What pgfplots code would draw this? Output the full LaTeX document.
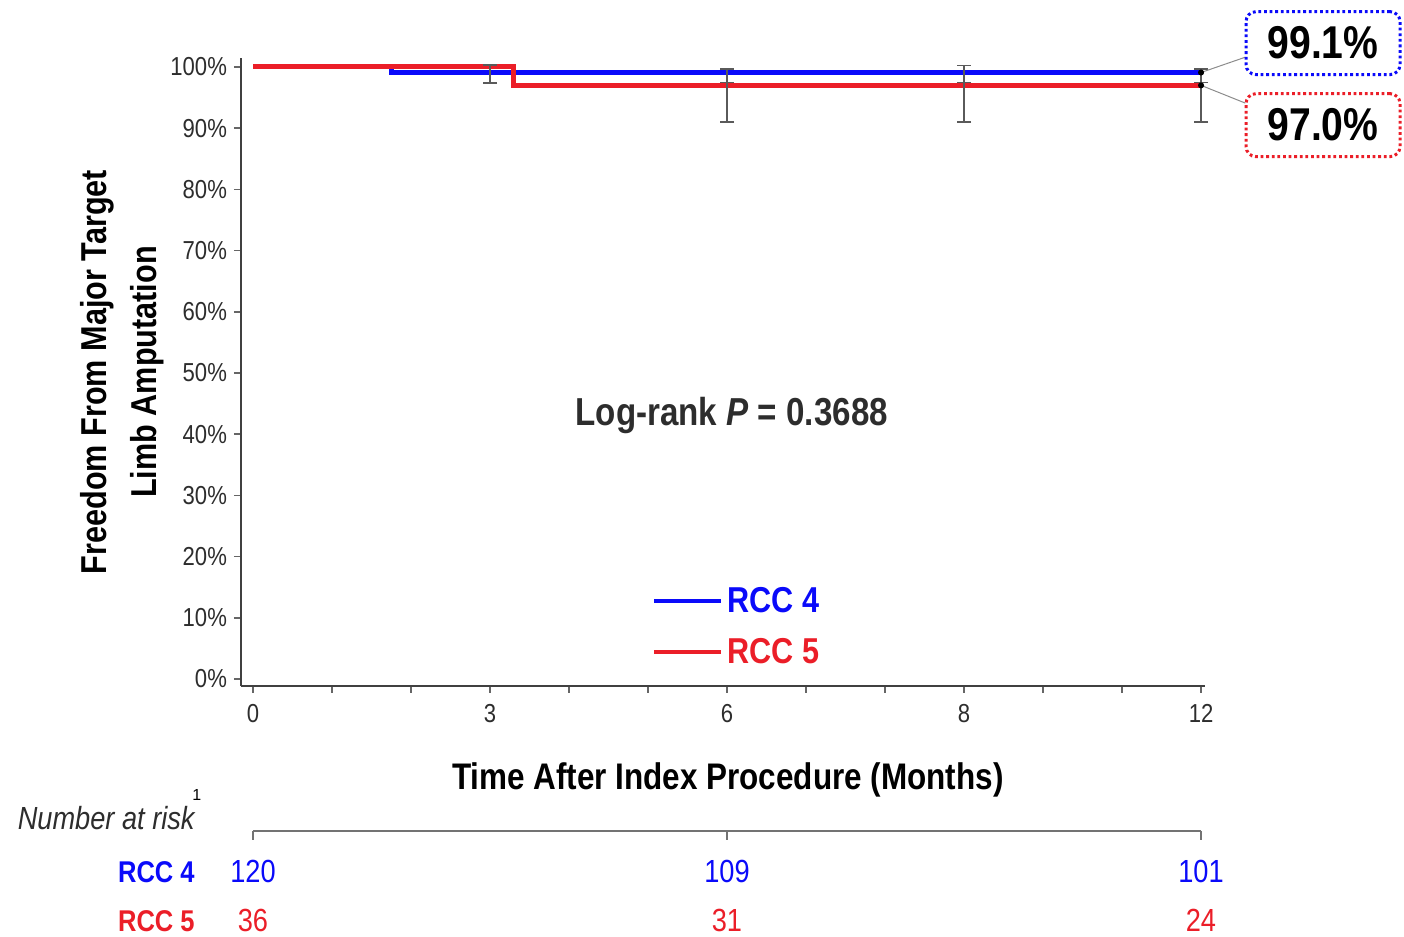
\documentclass[border=0pt]{standalone}
\usepackage{fontspec}
\setmainfont{Liberation Sans}[FakeStretch=0.85]
\newfontfamily\plainfont{Liberation Sans}
\usepackage{pgfplots}
\pgfplotsset{compat=1.18}
\definecolor{rccblue}{RGB}{10,10,250}
\definecolor{rccred}{RGB}{235,30,40}
\definecolor{errgray}{RGB}{90,90,90}
\definecolor{txtgray}{RGB}{45,45,45}
\newcommand{\fs}[1]{\fontsize{#1}{#1}\selectfont}

\begin{document}
\begin{tikzpicture}
\path[use as bounding box] (-120.5pt,-125.5pt) rectangle (581.5pt,343pt);
% main Kaplan-Meier panel
\begin{axis}[
  at={(0,0)}, anchor=south west, scale only axis, width=482pt, height=314pt,
  xmin=-0.152, xmax=12.05, ymin=-1.144, ymax=101.47,
  axis x line=bottom, axis y line=left,
  axis line style={-, draw=black!75, line width=0.8pt},
  tick align=outside, major tick length=3.5pt, minor tick length=3.5pt,
  tick style={draw=black!60, line width=0.8pt},
  xtick={0,3,6,9,12}, xticklabels={0,3,6,8,12}, minor xtick={1,2,4,5,7,8,10,11},
  ytick={0,10,...,100}, yticklabel={\pgfmathparse{int(round(\tick))}\pgfmathresult\%},
  ticklabel style={font=\fs{13}, text=txtgray},
  xticklabel style={yshift=-2pt},
  xlabel={Time After Index Procedure (Months)},
  xlabel style={at={([yshift=-47pt]axis description cs:0.505,0)}, anchor=center, font=\bfseries\fs{18.5}},
  ylabel={Freedom From Major Target\\Limb Amputation},
  ylabel style={at={([xshift=-59.5pt]axis description cs:0,0.5)}, anchor=center, align=center,
    font=\bfseries\fontsize{18}{25}\selectfont},
  clip=false,
  legend style={at={(axis description cs:0.4202,0.0947)}, anchor=west, draw=none, fill=none,
    font=\bfseries\fs{18}, row sep=7.5pt},
  legend cell align=left,
  legend image code/.code={\draw[#1, line width=2pt] (0pt,0pt) -- (33.5pt,0pt);},
]
\addplot[rccblue, line width=2.5pt, const plot] coordinates {(0,100) (1.75,99.1) (12,99.1)};
\addplot[rccred, line width=2.5pt, const plot] coordinates {(0,100) (3.3,97.0) (12,97.0)};
\legend{\textcolor{rccblue}{RCC 4}, \textcolor{rccred}{RCC 5}}
% confidence intervals
\addplot[forget plot, draw=none, mark=none,
  error bars/.cd, y dir=both, y explicit,
  error bar style={draw=errgray, line width=0.7pt},
  error mark options={rotate=90, mark size=3.5pt, draw=errgray, line width=0.7pt}] coordinates {
  (3,99.1) += (0,1.2) -= (0,1.7)
  (6,99.1) += (0,0.6) -= (0,1.6)
  (9,99.1) += (0,1.1) -= (0,1.6)
  (12,99.1) += (0,0.6) -= (0,1.6)
};
\addplot[forget plot, draw=none, mark=none,
  error bars/.cd, y dir=both, y explicit,
  error bar style={draw=errgray, line width=0.7pt},
  error mark options={rotate=90, mark size=3.5pt, draw=errgray, line width=0.7pt}] coordinates {
  (6,97.0) += (0,0.5) -= (0,6.0)
  (9,97.0) += (0,0.5) -= (0,6.0)
  (12,97.0) += (0,0.5) -= (0,6.0)
};
\addplot[forget plot, only marks, mark=*, mark size=1.3pt, black] coordinates {(12,99.1) (12,97.0)};
% callouts
\addplot[forget plot, black!45, line width=0.5pt] coordinates {(12,99.1) (12.56,101.6)};
\addplot[forget plot, black!45, line width=0.5pt] coordinates {(12,97.0) (12.56,94.1)};
\node[draw=rccblue, line width=1.5pt, dash pattern=on 1.4pt off 1.4pt, rounded corners=5pt,
  minimum width=77pt, minimum height=31.5pt, font=\bfseries\fs{23}] at (axis cs:13.544,103.9) {99.1\%};
\node[draw=rccred, line width=1.5pt, dash pattern=on 1.4pt off 1.4pt, rounded corners=5pt,
  minimum width=77pt, minimum height=31.5pt, font=\bfseries\fs{23}] at (axis cs:13.544,90.5) {97.0\%};
\node[font=\bfseries\fs{19.5}, text=txtgray] at (axis cs:6.06,43.0) {Log-rank \textit{P} = 0.3688};
\end{axis}
% number at risk
\begin{axis}[
  at={(6pt,-72.5pt)}, anchor=north west, scale only axis, width=474pt, height=50pt,
  xmin=0, xmax=12, ymin=-100, ymax=0,
  axis x line=top, axis y line=none,
  xtick={0,6,12}, xticklabels={}, tick align=inside, major tick length=4.5pt,
  axis line style={-, draw=black!55, line width=0.8pt},
  tick style={draw=black!55, line width=0.8pt},
  clip=false,
]
\node[anchor=base east, inner sep=0pt, font=\itshape\fs{16}, text=txtgray] at (axis cs:-0.734,1) {Number at risk};
\node[font=\plainfont\fs{8}] at (axis cs:-0.71,36) {1};
\node[anchor=base east, inner sep=0pt, font=\bfseries\fs{15}, text=rccblue] at (axis cs:-0.734,-52) {RCC 4};
\node[anchor=base east, inner sep=0pt, font=\bfseries\fs{15}, text=rccred] at (axis cs:-0.734,-101) {RCC 5};
\node[anchor=base, font=\fs{16}, text=rccblue] at (axis cs:0,-52) {120};
\node[anchor=base, font=\fs{16}, text=rccblue] at (axis cs:6,-52) {109};
\node[anchor=base, font=\fs{16}, text=rccblue] at (axis cs:12,-52) {101};
\node[anchor=base, font=\fs{16}, text=rccred] at (axis cs:0,-101) {36};
\node[anchor=base, font=\fs{16}, text=rccred] at (axis cs:6,-101) {31};
\node[anchor=base, font=\fs{16}, text=rccred] at (axis cs:12,-101) {24};
\end{axis}
\end{tikzpicture}
\end{document}
